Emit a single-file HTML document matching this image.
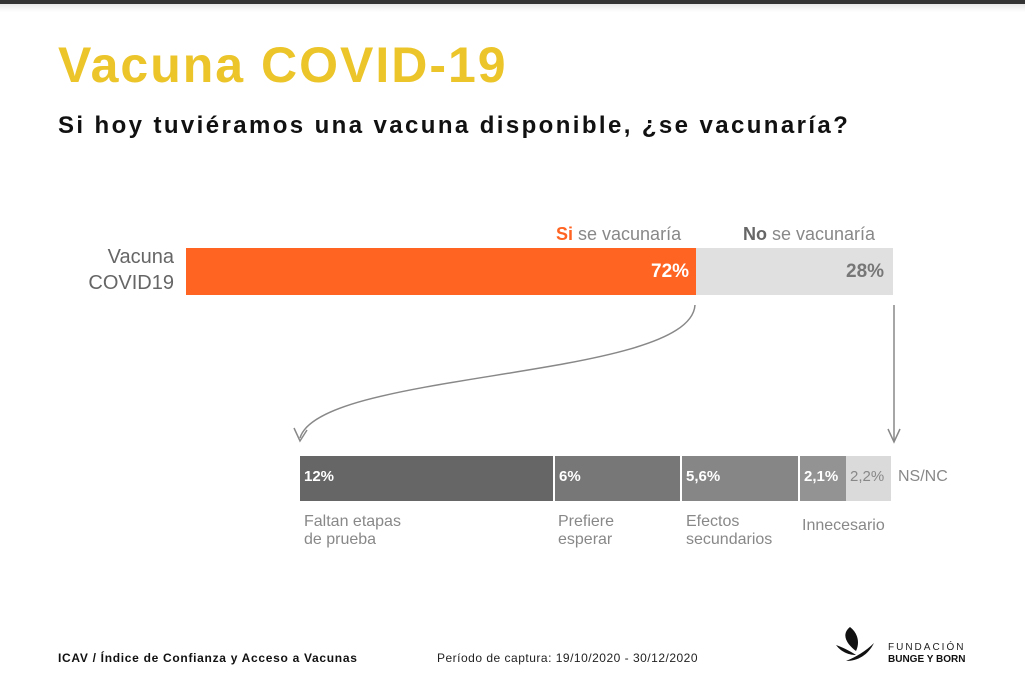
<!DOCTYPE html>
<html><head><meta charset="utf-8"><style>
body{margin:0;width:1025px;height:682px;background:#fff;position:relative;overflow:hidden;font-family:"Liberation Sans",sans-serif}
.a{position:absolute;white-space:nowrap}
.top{position:absolute;left:0;top:0;width:1025px;height:4px;background:#333}
.sh{position:absolute;left:0;top:4px;width:1025px;height:8px;background:linear-gradient(#e8e8e8,#fff)}
.seg{position:absolute;top:456px;height:45px;color:#fff;font-size:15px;font-weight:bold;box-sizing:border-box;padding:12px 0 0 4px}
.lab{position:absolute;top:513px;color:#888;font-size:16px;line-height:18px}
</style></head><body>
<div class="top"></div><div class="sh"></div>
<div class="a" style="left:58px;top:36px;font-size:50px;font-weight:bold;color:#ecc52a;letter-spacing:2px">Vacuna COVID-19</div>
<div class="a" style="left:58px;top:112px;font-size:24px;font-weight:bold;color:#111;letter-spacing:2.4px">Si hoy tuviéramos una vacuna disponible, ¿se vacunaría?</div>
<div class="a" style="left:60px;top:244px;width:114px;text-align:right;font-size:20px;color:#666;line-height:26px">Vacuna<br>COVID19</div>
<div class="a" style="left:556px;top:224px;font-size:18px;color:#888"><b style="color:#ff6422">Si</b> se vacunaría</div>
<div class="a" style="left:743px;top:224px;font-size:18px;color:#888"><b style="color:#666">No</b> se vacunaría</div>
<div class="a" style="left:186px;top:248px;width:510px;height:47px;background:#ff6422"></div>
<div class="a" style="left:696px;top:248px;width:197px;height:47px;background:#e0e0e0"></div>
<div class="a" style="left:651px;top:261px;font-size:19px;font-weight:bold;color:#fff">72%</div>
<div class="a" style="left:846px;top:261px;font-size:19px;font-weight:bold;color:#777">28%</div>
<svg class="a" style="left:0;top:0" width="1025" height="682">
<path d="M695 305 C 690 380, 320 370, 300 438" fill="none" stroke="#888" stroke-width="1.5"/>
<path d="M294 428 L300 441 L307 430" fill="none" stroke="#888" stroke-width="1.5"/>
<line x1="894" y1="305" x2="894" y2="440" stroke="#888" stroke-width="1.5"/>
<path d="M888 429 L894 442 L900 429" fill="none" stroke="#888" stroke-width="1.5"/>
</svg>
<div class="seg" style="left:300px;width:253px;background:#666">12%</div>
<div class="seg" style="left:555px;width:125px;background:#777">6%</div>
<div class="seg" style="left:682px;width:116px;background:#868686">5,6%</div>
<div class="seg" style="left:800px;width:46px;background:#939393">2,1%</div>
<div class="seg" style="left:846px;width:45px;background:#dadada;color:#888;font-weight:normal">2,2%</div>
<div class="a" style="left:898px;top:468px;font-size:16px;color:#888">NS/NC</div>
<div class="lab" style="left:304px">Faltan etapas<br>de prueba</div>
<div class="lab" style="left:558px">Prefiere<br>esperar</div>
<div class="lab" style="left:686px">Efectos<br>secundarios</div>
<div class="lab" style="left:802px;top:517px">Innecesario</div>
<div class="a" style="left:58px;top:651px;font-size:12px;font-weight:bold;color:#111;letter-spacing:0.7px">ICAV / Índice de Confianza y Acceso a Vacunas</div>
<div class="a" style="left:437px;top:651px;font-size:12px;color:#222;letter-spacing:0.5px">Período de captura: 19/10/2020 - 30/12/2020</div>
<svg class="a" style="left:834px;top:625px" width="50" height="40">
<path d="M16 2 C 6 10, 14 20, 22 26 C 26 18, 24 8, 16 2Z" fill="#111"/>
<path d="M2 20 C 8 28, 16 30, 22 30 C 16 26, 8 22, 2 20Z" fill="#111"/>
<path d="M12 36 C 24 36, 34 30, 40 18 C 32 26, 22 32, 12 36Z" fill="#111"/>
</svg>
<div class="a" style="left:888px;top:642px;font-size:10px;letter-spacing:2px;color:#222">FUNDACIÓN</div>
<div class="a" style="left:888px;top:654px;font-size:10px;font-weight:bold;color:#111">BUNGE Y BORN</div>
</body></html>
